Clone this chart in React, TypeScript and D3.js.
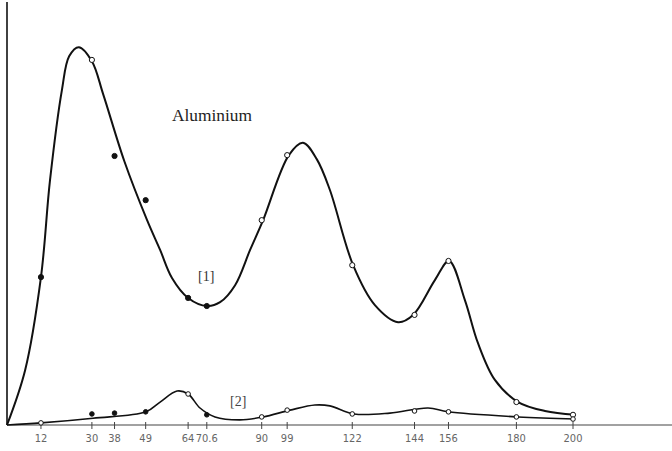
import React from "react";
import * as d3 from "d3";

// Tick values on the x axis and their printed labels
const tickValues = [12, 30, 38, 49, 64, 70.6, 90, 99, 122, 144, 156, 180, 200];
const tickLabels = ["12", "30", "38", "49", "64", "70.6", "90", "99", "122", "144", "156", "180", "200"];

// Observed measurement points (x shared)
const obsX = [12, 30, 38, 49, 64, 70.6, 90, 99, 122, 144, 156, 180, 200];
const obs1Y = [34.8, 85.9, 63.3, 52.9, 29.9, 28.0, 48.2, 63.5, 37.6, 25.9, 38.6, 5.4, 2.4];
const obs1Filled = [true, false, true, true, true, true, false, false, false, false, false, false, false];
const obs2Y = [0.5, 2.6, 2.8, 3.1, 7.3, 2.4, 1.9, 3.5, 2.6, 3.3, 3.1, 1.9, 1.4];
const obs2Filled = [false, true, true, true, false, true, false, false, false, false, false, false, false];

// Hand-drawn curve [1]
const curve1X = [0, 6.4, 12, 15.2, 19.4, 22, 25.4, 30, 34, 41.5, 49.5, 54.1, 58.3, 64, 70.7, 75.3, 80.6, 85.9, 90.5, 99.6, 104.6, 109.5, 114.1, 122.3, 130, 138.2, 143.5, 151.2, 156.2, 161.8, 166.4, 172.4, 180.6, 190.1, 200.7];
const curve1Y = [0, 12.9, 34.8, 57.6, 78.8, 86.8, 88.9, 85.6, 77.8, 62.0, 48.2, 41.2, 34.6, 29.9, 28.0, 28.9, 32.9, 41.2, 48.2, 63.5, 66.4, 62.5, 55.3, 37.6, 28.2, 24.2, 25.9, 34.1, 38.6, 29.4, 19.3, 10.6, 5.4, 3.3, 2.4];

// Hand-drawn curve [2]
const curve2X = [0, 12, 30.4, 49.1, 54.1, 60.1, 64, 68.2, 73.5, 82.3, 90.5, 100, 108.8, 114.1, 122.6, 135.3, 148.8, 155.8, 180.6, 200.7];
const curve2Y = [0, 0.5, 1.6, 3.1, 5.4, 8.0, 7.3, 4.0, 1.9, 1.2, 1.9, 3.5, 4.7, 4.5, 2.6, 2.8, 4.0, 3.1, 1.9, 1.4];

const W = 672;
const H = 451;

export default function App() {
  const x = d3.scaleLinear().domain([0, 200]).range([7, 573]);
  const y = d3.scaleLinear().domain([0, 100]).range([425, 0]);

  const line = d3
    .line<[number, number]>()
    .x((d) => x(d[0]))
    .y((d) => y(d[1]))
    .curve(d3.curveCatmullRom.alpha(0.5));

  const c1 = curve1X.map((v, i) => [v, curve1Y[i]] as [number, number]);
  const c2 = curve2X.map((v, i) => [v, curve2Y[i]] as [number, number]);

  const ink = "#111";
  const numFont = "'DejaVu Sans Condensed', 'Liberation Sans Narrow', 'DejaVu Sans', sans-serif";

  return (
    <svg
      width={W}
      height={H}
      style={{ position: "absolute", left: 0, top: 0, background: "#fff" }}
    >
      <rect x={0} y={0} width={W} height={H} fill="#fff" />
      {/* y axis */}
      <line x1={x(0)} x2={x(0)} y1={2} y2={y(0)} stroke={ink} strokeWidth={1.6} />
      {/* x axis */}
      <line x1={x(0)} x2={W} y1={y(0)} y2={y(0)} stroke="#444" strokeWidth={1.1} />
      {tickValues.map((t, i) => (
        <g key={i}>
          <line x1={x(t)} x2={x(t)} y1={y(0) - 3} y2={y(0) + 4} stroke="#444" strokeWidth={1} />
          <text
            x={x(t)}
            y={442}
            textAnchor="middle"
            fontFamily={numFont}
            fontSize={11}
            fill="#666"
          >
            {tickLabels[i]}
          </text>
        </g>
      ))}

      <path d={line(c1) ?? ""} fill="none" stroke={ink} strokeWidth={2} />
      <path d={line(c2) ?? ""} fill="none" stroke={ink} strokeWidth={1.6} />

      {obsX.map((v, i) => (
        <circle
          key={"a" + i}
          cx={x(v)}
          cy={y(obs1Y[i])}
          r={2.6}
          fill={obs1Filled[i] ? ink : "#fff"}
          stroke={ink}
          strokeWidth={1}
        />
      ))}
      {obsX.map((v, i) => (
        <circle
          key={"b" + i}
          cx={x(v)}
          cy={y(obs2Y[i])}
          r={2.3}
          fill={obs2Filled[i] ? ink : "#fff"}
          stroke={ink}
          strokeWidth={1}
        />
      ))}

      <text
        x={172}
        y={121}
        fontFamily="'Liberation Serif', 'DejaVu Serif', serif"
        fontSize={17}
        fill="#222"
        textLength={80}
        lengthAdjust="spacingAndGlyphs"
      >
        Aluminium
      </text>
      <text x={198} y={281} fontFamily="'Liberation Serif', serif" fontSize={14} fill="#333">
        [1]
      </text>
      <text x={230} y={406} fontFamily="'Liberation Serif', serif" fontSize={14} fill="#444">
        [2]
      </text>
    </svg>
  );
}
